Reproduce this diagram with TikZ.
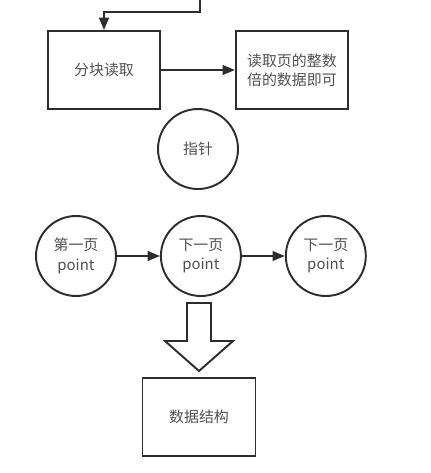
\documentclass[tikz,border=0pt]{standalone}
\usepackage{fontspec}
\usepackage{xcolor}
\usepackage{tikz}
\usetikzlibrary{arrows.meta, positioning, calc}
\newfontfamily\cjk{Noto Sans CJK SC}
\definecolor{linegray}{RGB}{45,45,45}
\definecolor{textgray}{RGB}{80,80,80}

\begin{document}
\begin{tikzpicture}[
    x=0.02cm, y=-0.02cm,
    >={Triangle[length=7pt, width=5.5pt]},
    box/.style={draw=linegray, line width=1.1pt, minimum width=2.24cm, minimum height=1.56cm, font=\cjk\fontsize{8.5}{11}\selectfont, text=textgray, align=center},
    ptr/.style={draw=linegray, line width=1.1pt, circle, minimum size=1.6cm, inner sep=0pt, font=\cjk\fontsize{8.5}{11}\selectfont, text=textgray, align=center},
    link/.style={->, line width=1.1pt, linegray},
]
    \useasboundingbox (0,0) rectangle (430,473);
    \node[box] (split) at (104,70) {分块读取};
    \node[box, right=1.48cm of split] (whole) {读取页的整数\\倍的数据即可};
    \node[ptr] (pointer) at (198,149) {指针};
    \node[ptr] (p1) at (76,256) {第一页\\point};
    \node[ptr, right=0.86cm of p1] (p2) {下一页\\point};
    \node[ptr, right=0.86cm of p2] (p3) {下一页\\point};
    \node[box, minimum width=2.26cm] (data) at (199,417) {数据结构};
    \coordinate (in) at (200,0);
    \draw[link] (in) -- ++(0,12) -| (split.north);
    \draw[link] (split) -- (whole);
    \draw[link] (p1) -- (p2);
    \draw[link] (p2) -- (p3);
    % hollow block arrow down to the data box
    \draw[line width=1.1pt, linegray, line join=miter]
        (187,303) -- (211,303) -- (211,341) -- (233,341) -- (199,371)
        -- (165,341) -- (187,341) -- cycle;
\end{tikzpicture}
\end{document}
